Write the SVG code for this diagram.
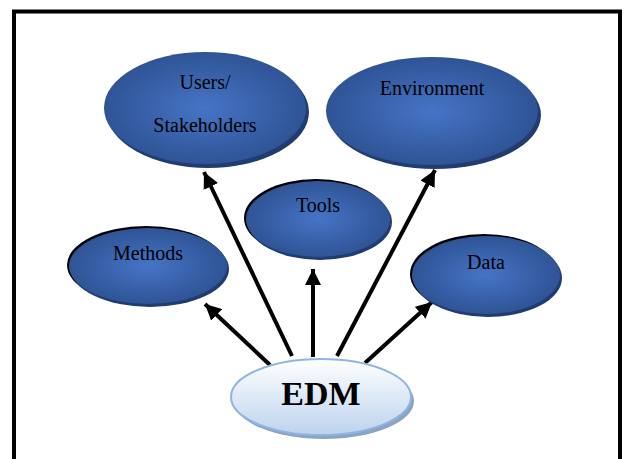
<svg xmlns="http://www.w3.org/2000/svg" width="629" height="459" viewBox="0 0 629 459">
<defs>
<radialGradient id="blue" cx="50%" cy="50%" r="50%">
<stop offset="0" stop-color="#4674c6"/>
<stop offset="1" stop-color="#2f5496"/>
</radialGradient>
<linearGradient id="light" x1="0" y1="0" x2="0" y2="1">
<stop offset="0" stop-color="#ffffff"/>
<stop offset="1" stop-color="#bcd3ee"/>
</linearGradient>
<marker id="ah" viewBox="0 0 10 10" refX="10" refY="5" markerWidth="4" markerHeight="4" orient="auto" markerUnits="strokeWidth">
<path d="M0,0 L10,5 L0,10 z" fill="#000"/>
</marker>
<style>
.sh{fill:#203c70}
.bk{fill:#000}
.nd{fill:url(#blue)}
.lb{font-family:"Liberation Serif","Times New Roman",serif;font-size:20px;fill:#000;text-anchor:middle}
.edm{font-family:"Liberation Serif","Times New Roman",serif;font-size:34px;font-weight:bold;fill:#000;text-anchor:middle}
.ln{stroke:#000;stroke-width:4;fill:none;marker-end:url(#ah)}
</style>
</defs>
<rect width="629" height="459" fill="#fff"/>
<rect x="14" y="11.5" width="606" height="460" fill="none" stroke="#000" stroke-width="4"/>
<g id="connectors">
<line class="ln" x1="292" y1="356" x2="204" y2="172"/>
<line class="ln" x1="313" y1="357" x2="313" y2="269"/>
<line class="ln" x1="337" y1="356" x2="435" y2="170"/>
<line class="ln" x1="270" y1="365" x2="205" y2="304"/>
<line class="ln" x1="365" y1="363" x2="432" y2="302"/>
</g>
<g id="users">
<ellipse class="sh" cx="208" cy="112" rx="101" ry="56"/>
<ellipse class="nd" cx="205" cy="108" rx="101" ry="56"/>
<text class="lb" x="205" y="89">Users/</text>
<text class="lb" x="205" y="132">Stakeholders</text>
</g>
<g id="environment">
<ellipse class="sh" cx="435" cy="115" rx="106" ry="54"/>
<ellipse class="nd" cx="432" cy="111" rx="106" ry="54"/>
<text class="lb" x="432" y="95">Environment</text>
</g>
<g id="tools">
<ellipse class="bk" cx="316" cy="218" rx="72" ry="39"/>
<ellipse class="sh" cx="320" cy="222" rx="72" ry="38"/>
<ellipse class="nd" cx="318" cy="219" rx="72" ry="38"/>
<text class="lb" x="318" y="212">Tools</text>
</g>
<g id="methods">
<ellipse class="bk" cx="146" cy="265" rx="79" ry="39"/>
<ellipse class="sh" cx="150" cy="269" rx="79" ry="38"/>
<ellipse class="nd" cx="148" cy="266" rx="79" ry="38"/>
<text class="lb" x="148" y="260">Methods</text>
</g>
<g id="data">
<ellipse class="bk" cx="484" cy="274" rx="74" ry="40"/>
<ellipse class="sh" cx="488" cy="278" rx="74" ry="39"/>
<ellipse class="nd" cx="486" cy="275" rx="74" ry="39"/>
<text class="lb" x="486" y="269">Data</text>
</g>
<g id="edm">
<ellipse cx="324" cy="401" rx="90" ry="38" fill="#8aa4c4"/>
<ellipse cx="321" cy="397" rx="90" ry="38" fill="url(#light)" stroke="#8fb4e0" stroke-width="2"/>
<text class="edm" x="321" y="405">EDM</text>
</g>
</svg>
